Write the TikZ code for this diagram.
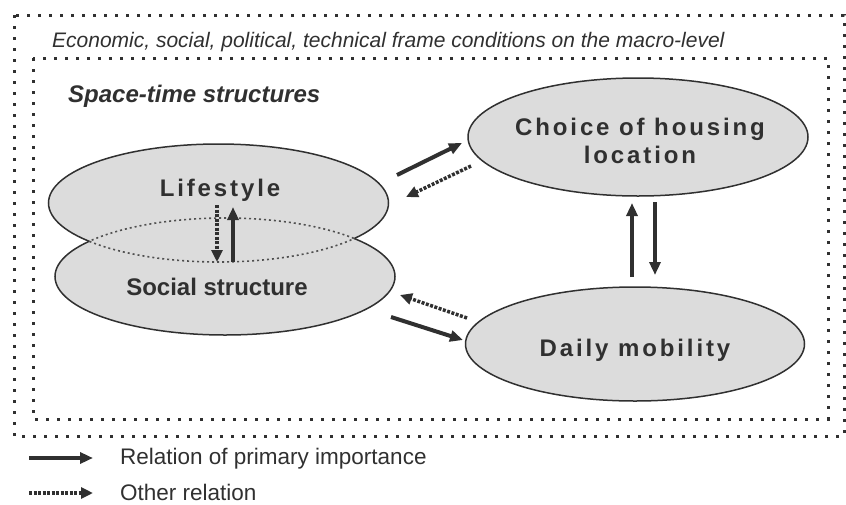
\documentclass[tikz,border=0pt]{standalone}
\usepackage{fontspec}
\setmainfont{Liberation Sans}
\newfontfamily\spacedfont{Liberation Sans}[LetterSpace=12]
\usetikzlibrary{arrows.meta,shapes.geometric}
\definecolor{ink}{HTML}{303030}
\definecolor{blobfill}{HTML}{DCDCDC}
\begin{document}
\begin{tikzpicture}[x=1pt,y=-1pt,
  frame/.style={draw=ink, line width=3pt, dash pattern=on 3pt off 8pt},
  prim/.style={draw=ink, line width=4pt, -{Triangle[length=13pt,width=11pt]}},
  other/.style={draw=ink, line width=3.5pt, dash pattern=on 3pt off 1.5pt, -{Triangle[length=12pt,width=11pt]}},
  blob/.style={ellipse, fill=blobfill, inner sep=0pt},
  bloboutline/.style={draw=ink, line width=1.5pt},
  overlap/.style={draw=ink!85, line width=1.6pt, dash pattern=on 2pt off 3pt},
  lbl/.style={text=ink, inner sep=0pt, anchor=base, font=\spacedfont\bfseries\fontsize{24}{28}\selectfont},
  plainlbl/.style={text=ink, inner sep=0pt, anchor=base, font=\bfseries\fontsize{24}{28}\selectfont},
  legend/.style={text=ink, inner sep=0pt, anchor=west, font=\fontsize{22.5}{26}\selectfont},
]
\useasboundingbox (0,0) rectangle (846,504);

% frames
\draw[frame] (14,15) rectangle (844,436);
\draw[frame] (33,58) rectangle (828,419);

\node[text=ink, inner sep=0pt, anchor=base west, font=\itshape\fontsize{21}{25}\selectfont] (macro) at (52,47)
  {Economic, social, political, technical frame conditions on the macro-level};
\node[text=ink, inner sep=0pt, anchor=base west, font=\bfseries\itshape\fontsize{24}{28}\selectfont] (stt) at (68,102)
  {Space-time structures};

% Lifestyle / Social structure blobs
\node[blob, minimum width=340pt, minimum height=118pt] (life) at (218.5,203) {};
\node[blob, minimum width=340pt, minimum height=117pt] (soc) at (225,276.5) {};
\begin{scope}[even odd rule]
  \clip (0,0) rectangle (846,504) (soc.center) ellipse [x radius=170, y radius=58.5];
  \draw[bloboutline] (life.center) ellipse [x radius=170, y radius=59];
\end{scope}
\begin{scope}[even odd rule]
  \clip (0,0) rectangle (846,504) (life.center) ellipse [x radius=170, y radius=59];
  \draw[bloboutline] (soc.center) ellipse [x radius=170, y radius=58.5];
\end{scope}
\begin{scope}
  \clip (soc.center) ellipse [x radius=170, y radius=58.5];
  \draw[overlap] (life.center) ellipse [x radius=170, y radius=59];
\end{scope}
\begin{scope}
  \clip (life.center) ellipse [x radius=170, y radius=59];
  \draw[overlap] (soc.center) ellipse [x radius=170, y radius=58.5];
\end{scope}
\node[lbl] (lifet) at (220,196) {Lifestyle};
\node[plainlbl] (soct) at (217,295) {Social structure};

% Choice / Daily
\node[blob, draw=ink, line width=1.5pt, minimum width=340pt, minimum height=118pt] (choice) at (638,137) {};
\node[blob, draw=ink, line width=1.5pt, minimum width=339pt, minimum height=114pt] (daily) at (635,344) {};
\node[lbl] (choicet) at (640,135) {Choice of housing};
\node[lbl] (loct) at (640,163) {location};
\node[lbl] (dailyt) at (635,356) {Daily mobility};

% arrow end points
\coordinate (lc1) at (397,175); \coordinate (lc2) at (462,143);
\coordinate (cl1) at (471,166); \coordinate (cl2) at (406,197);
\coordinate (ds1) at (467,318); \coordinate (ds2) at (400,295);
\coordinate (sd1) at (391,317); \coordinate (sd2) at (463,340);
\coordinate (dc1) at (632,277); \coordinate (dc2) at (632,203);
\coordinate (cd1) at (655,202); \coordinate (cd2) at (655,275);
\coordinate (ls1) at (217,205); \coordinate (ls2) at (217,262);
\coordinate (sl1) at (233,262); \coordinate (sl2) at (233,207);

\draw[prim] (lc1) -- (lc2);
\draw[other] (cl1) -- (cl2);
\draw[other] (ds1) -- (ds2);
\draw[prim] (sd1) -- (sd2);
\draw[prim] (dc1) -- (dc2);
\draw[prim] (cd1) -- (cd2);
\draw[other] (ls1) -- (ls2);
\draw[prim] (sl1) -- (sl2);

% legend
\coordinate (k1a) at (29,458); \coordinate (k1b) at (93,458);
\coordinate (k2a) at (29,493); \coordinate (k2b) at (93,493);
\draw[prim] (k1a) -- (k1b);
\draw[other] (k2a) -- (k2b);
\node[legend] (k1t) at (120,459) {Relation of primary importance};
\node[legend] (k2t) at (120,492) {Other relation};
\end{tikzpicture}
\end{document}
